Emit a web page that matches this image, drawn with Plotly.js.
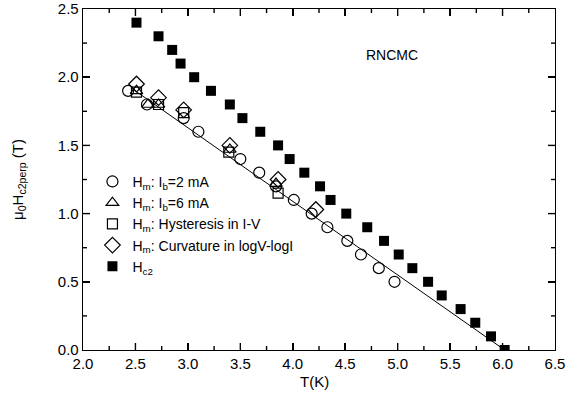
<!DOCTYPE html>
<html>
<head>
<meta charset="utf-8">
<script src="https://cdn.plot.ly/plotly-3.0.1.min.js"></script>
<style>html,body{margin:0;padding:0;background:#fff;}#chart{width:568px;height:395px;}</style>
</head>
<body>
<div id="chart"></div>
<script>
// Hm, Ib = 2 mA (open circles)
const circX = [2.43, 2.61, 2.96, 3.10, 3.50, 3.68, 3.84, 4.01, 4.18, 4.33, 4.52, 4.65, 4.82, 4.97];
const circY = [1.90, 1.80, 1.70, 1.60, 1.40, 1.30, 1.20, 1.10, 1.00, 0.90, 0.80, 0.70, 0.60, 0.50];
// Hm, Ib = 6 mA (open triangles)
const triX = [2.51, 2.62, 2.72, 3.40, 3.84];
const triY = [1.90, 1.80, 1.80, 1.47, 1.22];
// Hm, hysteresis in I-V (open squares)
const sqX = [2.51, 2.72, 2.96, 3.39, 3.86];
const sqY = [1.89, 1.80, 1.74, 1.45, 1.15];
// Hm, curvature in logV-logI (open diamonds)
const diaX = [2.51, 2.72, 2.96, 3.40, 3.86, 4.22];
const diaY = [1.95, 1.85, 1.76, 1.50, 1.25, 1.03];
// Hc2 (filled squares)
const hc2X = [2.51, 2.72, 2.85, 2.93, 3.06, 3.22, 3.40, 3.52, 3.69, 3.86, 3.97, 4.11, 4.26, 4.36, 4.51, 4.71, 4.87, 5.01, 5.14, 5.29, 5.42, 5.60, 5.74, 5.89, 6.02];
const hc2Y = [2.40, 2.30, 2.20, 2.10, 2.00, 1.90, 1.80, 1.70, 1.60, 1.50, 1.40, 1.30, 1.20, 1.10, 1.00, 0.90, 0.80, 0.70, 0.60, 0.50, 0.40, 0.30, 0.20, 0.10, 0.00];
// linear fit line
const fitX = [2.48, 6.02];
const fitY = [1.91, 0.00];
// axis tick values
const xTickVals = [2.0, 2.5, 3.0, 3.5, 4.0, 4.5, 5.0, 5.5, 6.0, 6.5];
const yTickVals = [0.0, 0.5, 1.0, 1.5, 2.0, 2.5];

const names = [
  "H<sub>m</sub>: I<sub>b</sub>=2 mA",
  "H<sub>m</sub>: I<sub>b</sub>=6 mA",
  "H<sub>m</sub>: Hysteresis in I-V",
  "H<sub>m</sub>: Curvature in logV-logI",
  "H<sub>c2</sub>"
];

const openMarker = (sym, size) => ({symbol: sym, size: size, color: '#000', line: {color: '#000', width: 1.2}});

const traces = [
  {x: fitX, y: fitY, mode: 'lines', line: {color: '#000', width: 1}, showlegend: false, hoverinfo: 'skip'},
  {x: circX, y: circY, mode: 'markers', name: names[0], marker: openMarker('circle-open', 11)},
  {x: triX, y: triY, mode: 'markers', name: names[1], marker: openMarker('triangle-up-open', 11)},
  {x: sqX, y: sqY, mode: 'markers', name: names[2], marker: openMarker('square-open', 10)},
  {x: diaX, y: diaY, mode: 'markers', name: names[3], marker: openMarker('diamond-open', 12)},
  {x: hc2X, y: hc2Y, mode: 'markers', name: names[4], marker: {symbol: 'square', size: 10, color: '#000'}}
];

const fam = 'Liberation Sans, Arial, sans-serif';
const font = {family: fam, size: 14, color: '#000'};

const axisCommon = {
  showline: true, linecolor: '#000', linewidth: 1.3, mirror: 'ticks',
  ticks: 'inside', ticklen: 7, tickwidth: 1.5, tickcolor: '#000',
  showgrid: false, zeroline: false, automargin: false,
  tickfont: {family: fam, size: 15, color: '#000'}
};

// inward tick marks on all four sides (major and intermediate), as thin shapes
const PW = 472, PH = 341, MAJ = 7, MIN = 4;
const tickShapes = [];
const seg = (o) => Object.assign({type: 'line', layer: 'above', line: {color: '#000', width: 1.4}}, o);
function addX(v, len) {
  const f = len / PH;
  tickShapes.push(seg({xref: 'x', yref: 'paper', x0: v, x1: v, y0: 0, y1: f}));
  tickShapes.push(seg({xref: 'x', yref: 'paper', x0: v, x1: v, y0: 1, y1: 1 - f}));
}
function addY(v, len) {
  const f = len / PW;
  tickShapes.push(seg({xref: 'paper', yref: 'y', y0: v, y1: v, x0: 0, x1: f}));
  tickShapes.push(seg({xref: 'paper', yref: 'y', y0: v, y1: v, x0: 1, x1: 1 - f}));
}
for (let i = 0; i < xTickVals.length; i++) {
  if (i > 0 && i < xTickVals.length - 1) addX(xTickVals[i], MAJ);
  if (i < xTickVals.length - 1) addX((xTickVals[i] + xTickVals[i + 1]) / 2, MIN);
}
for (let i = 0; i < yTickVals.length; i++) {
  if (i > 0 && i < yTickVals.length - 1) addY(yTickVals[i], MAJ);
  if (i < yTickVals.length - 1) addY((yTickVals[i] + yTickVals[i + 1]) / 2, MIN);
}

const layout = {
  width: 568, height: 395,
  margin: {l: 83, r: 13, t: 9, b: 45, autoexpand: false},
  paper_bgcolor: '#fff', plot_bgcolor: '#fff',
  font: font,
  xaxis: Object.assign({}, axisCommon, {
    range: [2.0, 6.5], tickmode: 'array', tickvals: xTickVals, tickformat: '.1f'
  }),
  yaxis: Object.assign({}, axisCommon, {
    range: [0, 2.5], tickmode: 'array', tickvals: yTickVals, tickformat: '.1f',
    title: {text: 'μ<sub>0</sub>H<sub>c2perp</sub> (T)', font: {family: fam, size: 15, color: '#000'}, standoff: 30}
  }),
  legend: {
    x: 0.02, y: 0.54, xanchor: 'left', yanchor: 'top',
    bgcolor: 'rgba(0,0,0,0)', borderwidth: 0,
    font: {family: fam, size: 14, color: '#000'},
    tracegroupgap: 0, itemwidth: 30
  },
  shapes: tickShapes,
  annotations: [
    {x: 4.95, y: 2.16, xref: 'x', yref: 'y', text: 'RNCMC', showarrow: false,
     font: {family: fam, size: 14, color: '#000'}},
    {x: 0.49, y: -0.092, xref: 'paper', yref: 'paper', text: 'T(K)', showarrow: false,
     xanchor: 'center', yanchor: 'middle', font: {family: fam, size: 15, color: '#000'}}
  ],
  showlegend: true
};

Plotly.newPlot('chart', traces, layout, {displayModeBar: false, staticPlot: true});
</script>
</body>
</html>
